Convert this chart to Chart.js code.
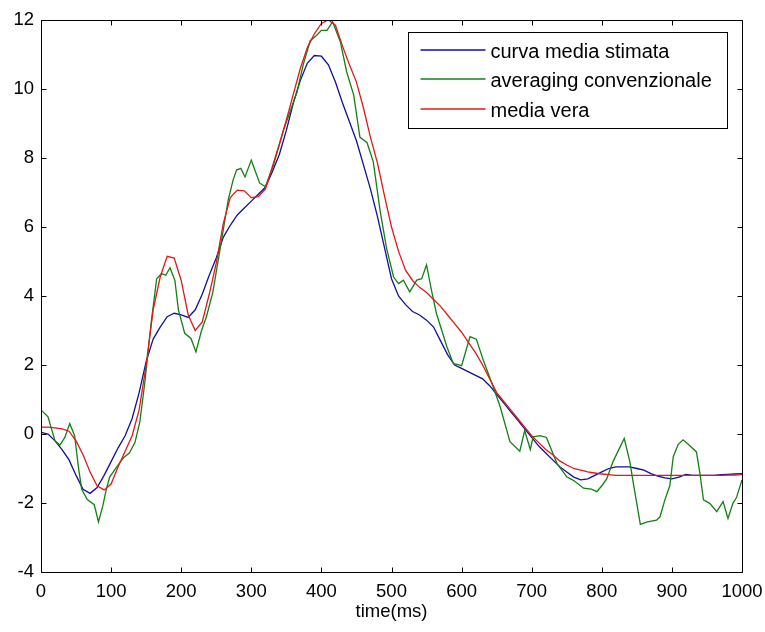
<!DOCTYPE html>
<html><head><meta charset="utf-8">
<script src="https://cdn.jsdelivr.net/npm/chart.js@4/dist/chart.umd.min.js"></script>
<style>html,body{margin:0;padding:0;background:#fff;}#wrap{width:765px;height:632px;}</style>
</head><body><div id="wrap"><canvas id="c" width="765" height="632"></canvas></div>
<script>
const seriesLabels = ['curva media stimata', 'averaging convenzionale', 'media vera'];
const xTickValues = [0, 100, 200, 300, 400, 500, 600, 700, 800, 900, 1000];
const yTickValues = [-4, -2, 0, 2, 4, 6, 8, 10, 12];
const xTitle = 'time(ms)';

const tSmooth = [0,10,20,30,40,50,60,70,80,90,100,110,120,130,140,150,160,170,180,190,200,210,220,230,240,250,260,270,280,290,300,310,320,330,340,350,360,370,380,390,400,410,420,430,440,450,460,470,480,490,500,510,520,530,540,550,560,570,580,590,600,610,620,630,640,650,660,670,680,690,700,710,720,730,740,750,760,770,780,790,800,810,820,830,840,850,860,870,880,890,900,910,920,930,940,950,960,970,980,990,1000];

const blueValues = [0.05,0.0,-0.2,-0.45,-0.75,-1.2,-1.6,-1.72,-1.55,-1.2,
  -0.8,-0.4,-0.05,0.45,1.2,2.1,2.75,3.1,3.4,3.5,
  3.45,3.38,3.6,4.05,4.6,5.1,5.7,6.05,6.35,6.55,
  6.75,6.95,7.15,7.6,8.1,8.8,9.6,10.25,10.75,10.97,
  10.95,10.7,10.2,9.6,9.05,8.5,7.8,7.1,6.3,5.4,
  4.5,4.0,3.75,3.55,3.45,3.3,3.1,2.7,2.3,2.0,
  1.9,1.8,1.7,1.6,1.4,1.15,0.9,0.65,0.4,0.15,
  -0.1,-0.35,-0.55,-0.75,-0.95,-1.1,-1.25,-1.33,-1.3,-1.2,
  -1.1,-1.0,-0.95,-0.95,-0.95,-1.0,-1.05,-1.15,-1.22,-1.27,
  -1.3,-1.25,-1.17,-1.2,-1.2,-1.2,-1.2,-1.18,-1.17,-1.16,-1.15];

const redValues = [0.2,0.2,0.18,0.15,0.08,-0.2,-0.6,-1.1,-1.5,-1.62,
  -1.45,-0.95,-0.5,-0.05,0.7,2.0,3.6,4.55,5.15,5.1,
  4.45,3.45,3.0,3.25,4.05,4.95,6.1,6.85,7.07,7.05,
  6.85,6.88,7.1,7.75,8.4,9.1,9.85,10.6,11.2,11.6,
  11.9,12.0,11.85,11.25,10.7,10.2,9.45,8.6,7.85,6.9,
  6.0,5.3,4.75,4.45,4.25,4.1,3.9,3.7,3.45,3.2,
  2.95,2.65,2.35,2.0,1.6,1.2,0.95,0.7,0.45,0.2,
  -0.05,-0.25,-0.45,-0.6,-0.78,-0.9,-1.0,-1.05,-1.1,-1.13,
  -1.16,-1.18,-1.2,-1.2,-1.2,-1.2,-1.2,-1.2,-1.2,-1.2,
  -1.2,-1.2,-1.2,-1.2,-1.2,-1.2,-1.2,-1.2,-1.19,-1.19,-1.18];

const tGreen = [0,10,20,27,34,41,48,53,58,66,76,82,88,93,98,108,118,126,134,141,148,157,165,172,178,184,191,196,205,214,221,229,236,245,255,267,274,279,285,291,300,305,312,320,331,346,365,374,384,393,400,408,416,427,436,446,455,465,474,484,493,503,510,517,526,536,543,550,557,564,579,588,600,612,621,631,645,655,669,683,690,698,702,712,721,736,750,760,774,785,793,800,807,816,832,840,845,855,865,878,883,890,897,902,909,916,926,935,940,945,954,964,973,980,987,992,1000];
const greenValues = [0.7,0.5,-0.2,-0.32,-0.1,0.3,-0.05,-0.9,-1.6,-1.9,-2.05,-2.55,-2.1,-1.62,-1.25,-0.95,-0.68,-0.55,-0.25,0.35,1.47,3.2,4.5,4.65,4.6,4.82,4.45,3.6,2.92,2.77,2.38,3.0,3.4,4.1,5.3,6.78,7.36,7.65,7.7,7.45,7.94,7.65,7.27,7.17,7.75,8.81,9.9,10.7,11.4,11.55,11.7,11.7,11.95,11.37,10.5,9.83,8.6,8.45,7.89,6.44,5.38,4.55,4.36,4.46,4.12,4.46,4.5,4.9,4.17,3.5,2.53,2.05,1.98,2.82,2.75,2.14,1.37,0.79,-0.22,-0.5,0.1,-0.45,-0.08,-0.05,-0.1,-0.85,-1.24,-1.35,-1.57,-1.6,-1.67,-1.5,-1.3,-0.8,-0.13,-0.8,-1.43,-2.62,-2.55,-2.5,-2.4,-1.91,-1.5,-0.65,-0.3,-0.17,-0.35,-0.52,-1.14,-1.91,-2.01,-2.25,-1.96,-2.45,-2.01,-1.85,-1.33];

const seriesColors = ['#10109a', '#138013', '#dd1a1a'];

function pairs(ts, vs) { return ts.map((t, i) => ({x: t, y: vs[i]})); }

const FONT = '"Liberation Sans", Arial, Helvetica, sans-serif';

const framePlugin = {
  id: 'frame',
  afterDatasetsDraw(chart) {
    const {ctx, chartArea: a, scales: {x, y}} = chart;
    const L = Math.round(a.left) + 0.5, R = Math.round(a.right) + 0.5;
    const T = Math.round(a.top) + 0.5, B = Math.round(a.bottom) + 0.5;
    ctx.save();
    ctx.strokeStyle = '#000';
    ctx.lineWidth = 1;
    ctx.beginPath();
    ctx.rect(L, T, R - L, B - T);
    const tl = 5;
    x.ticks.forEach(tk => {
      const px = Math.round(x.getPixelForValue(tk.value)) + 0.5;
      ctx.moveTo(px, B); ctx.lineTo(px, B - tl);
      ctx.moveTo(px, T); ctx.lineTo(px, T + tl);
    });
    y.ticks.forEach(tk => {
      const py = Math.round(y.getPixelForValue(tk.value)) + 0.5;
      ctx.moveTo(L, py); ctx.lineTo(L + tl, py);
      ctx.moveTo(R, py); ctx.lineTo(R - tl, py);
    });
    ctx.stroke();
    ctx.restore();
  },
  afterDraw(chart) {
    const {ctx, chartArea: a} = chart;
    const boxR = Math.round(a.right - 15) + 0.5;
    const boxL = Math.round(a.right - 334) + 0.5;
    const boxT = Math.round(a.top + 12) + 0.5;
    const boxB = Math.round(a.top + 108) + 0.5;
    ctx.save();
    ctx.fillStyle = '#fff';
    ctx.fillRect(boxL, boxT, boxR - boxL, boxB - boxT);
    ctx.strokeStyle = '#000';
    ctx.lineWidth = 1;
    ctx.strokeRect(boxL, boxT, boxR - boxL, boxB - boxT);
    ctx.font = '20px ' + FONT;
    ctx.textBaseline = 'middle';
    ctx.textAlign = 'left';
    for (let i = 0; i < seriesLabels.length; i++) {
      const ly = Math.round(boxT + 17 + i * 29.5);
      ctx.strokeStyle = seriesColors[i];
      ctx.lineWidth = 1.3;
      ctx.beginPath();
      ctx.moveTo(boxL + 12, ly);
      ctx.lineTo(boxL + 77, ly);
      ctx.stroke();
      ctx.fillStyle = '#000';
      ctx.fillText(seriesLabels[i], boxL + 82, ly + 2);
    }
    ctx.restore();
  }
};

new Chart(document.getElementById('c'), {
  type: 'line',
  data: {
    datasets: [
      {label: seriesLabels[0], data: pairs(tSmooth, blueValues), borderColor: seriesColors[0], order: 3},
      {label: seriesLabels[1], data: pairs(tGreen, greenValues), borderColor: seriesColors[1], order: 2},
      {label: seriesLabels[2], data: pairs(tSmooth, redValues), borderColor: seriesColors[2], order: 1}
    ]
  },
  options: {
    responsive: false,
    animation: false,
    devicePixelRatio: 1,
    elements: {
      line: {borderWidth: 1.3, tension: 0, fill: false},
      point: {radius: 0, hoverRadius: 0}
    },
    layout: {padding: {top: 20, right: 23, left: 0, bottom: 0}},
    plugins: {legend: {display: false}, tooltip: {enabled: false}},
    events: [],
    scales: {
      x: {
        type: 'linear', min: 0, max: 1000,
        afterBuildTicks: s => { s.ticks = xTickValues.map(v => ({value: v})); },
        afterFit: s => { s.height = 60; s.paddingLeft = 0; s.paddingRight = 0; },
        grid: {display: false, drawTicks: false},
        border: {display: true, color: '#000', width: 1},
        ticks: {padding: 9, color: '#000', font: {family: FONT, size: 18.5}, maxRotation: 0, autoSkip: false,
          callback: v => String(v)},
        title: {display: true, text: xTitle, color: '#000', font: {family: FONT, size: 18.5}, padding: {top: 0, bottom: 9}}
      },
      y: {
        type: 'linear', min: -4, max: 12,
        afterBuildTicks: s => { s.ticks = yTickValues.map(v => ({value: v})); },
        afterFit: s => { s.width = 41; s.paddingTop = 0; s.paddingBottom = 0; },
        grid: {display: false, drawTicks: false},
        border: {display: true, color: '#000', width: 1},
        ticks: {padding: 7, color: '#000', font: {family: FONT, size: 18.5}, autoSkip: false,
          callback: v => String(v)}
      }
    }
  },
  plugins: [framePlugin]
});
</script>
</body></html>
